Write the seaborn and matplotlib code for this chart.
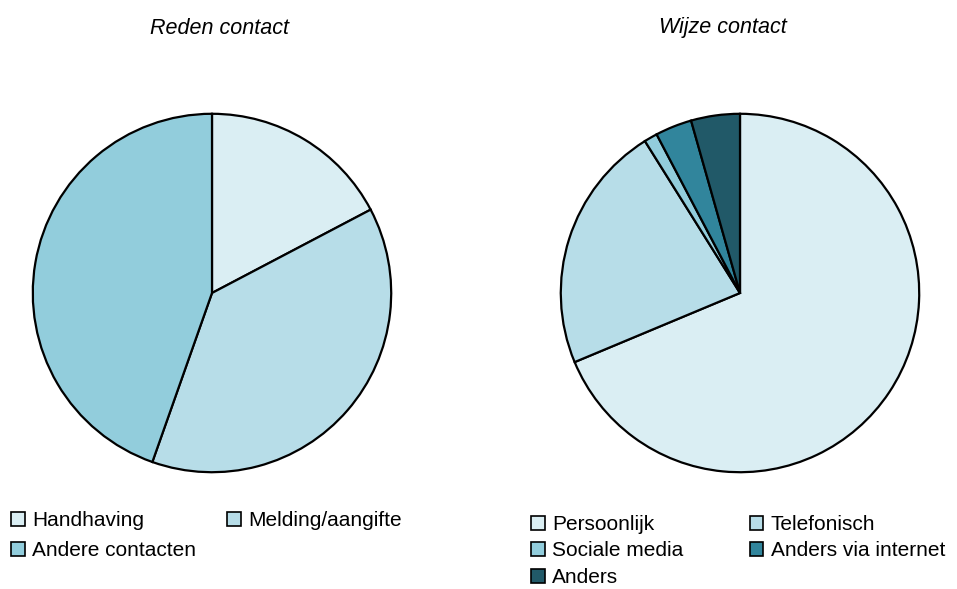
import matplotlib
matplotlib.use("Agg")
import matplotlib.pyplot as plt
from matplotlib.patches import Patch
import seaborn as sns

sns.set_theme(style="white")
plt.rcParams["font.family"] = ["Liberation Sans", "DejaVu Sans"]
plt.rcParams["text.color"] = "black"

# Reden contact
reden_labels = ["Handhaving", "Melding/aangifte", "Andere contacten"]
reden_values = [17.3, 38.1, 44.6]
reden_colors = ["#DAEEF3", "#B7DDE8", "#92CDDC"]

# Wijze contact
wijze_labels = ["Persoonlijk", "Telefonisch", "Sociale media", "Anders via internet", "Anders"]
wijze_values = [68.7, 22.4, 1.2, 3.3, 4.4]
wijze_colors = ["#DAEEF3", "#B7DDE8", "#92CDDC", "#31859C", "#215968"]

W, H = 957, 589
fig = plt.figure(figsize=(W / 100, H / 100), dpi=100)
fig.patch.set_facecolor("white")

R = 181


def pie_axes(cx, cy):
    return fig.add_axes([(cx - R) / W, (H - cy - R) / H, 2 * R / W, 2 * R / H])


def draw_pie(ax, values, colors):
    ax.pie(values, colors=colors, startangle=90, counterclock=False, radius=1,
           wedgeprops=dict(edgecolor="black", linewidth=1.6))
    ax.set_xlim(-1.01, 1.01)
    ax.set_ylim(-1.01, 1.01)
    ax.set_aspect("equal")
    ax.axis("off")


ax1 = pie_axes(212, 293)
draw_pie(ax1, reden_values, reden_colors)
ax2 = pie_axes(740, 293)
draw_pie(ax2, wijze_values, wijze_colors)

fig.text(220 / W, 1 - 28 / H, "Reden contact", ha="center", va="center",
         fontsize=15.5, style="italic")
fig.text(723 / W, 1 - 28 / H, "Wijze contact", ha="center", va="center",
         fontsize=15.5, style="italic")


def row_major(items, ncol=2):
    # legend fills columns first; reorder so entries read left-to-right
    return [items[i] for c in range(ncol) for i in range(c, len(items), ncol)]


def legend(labels, colors, x, y, colsp, labsp):
    handles = [Patch(facecolor=c, edgecolor="black", linewidth=1.2) for c in colors]
    fig.legend(row_major(handles), row_major(labels), loc="upper left",
               bbox_to_anchor=(x / W, 1 - y / H),
               ncol=2, frameon=False, fontsize=15, handlelength=0.65,
               handleheight=0.65, handletextpad=0.35, columnspacing=colsp,
               labelspacing=labsp, borderaxespad=0, borderpad=0)


legend(reden_labels, reden_colors, 11, 511, 1.5, 0.55)
legend(wijze_labels, wijze_colors, 531, 515, 3.2, 0.36)

fig.savefig("out.png", dpi=100, facecolor="white")
